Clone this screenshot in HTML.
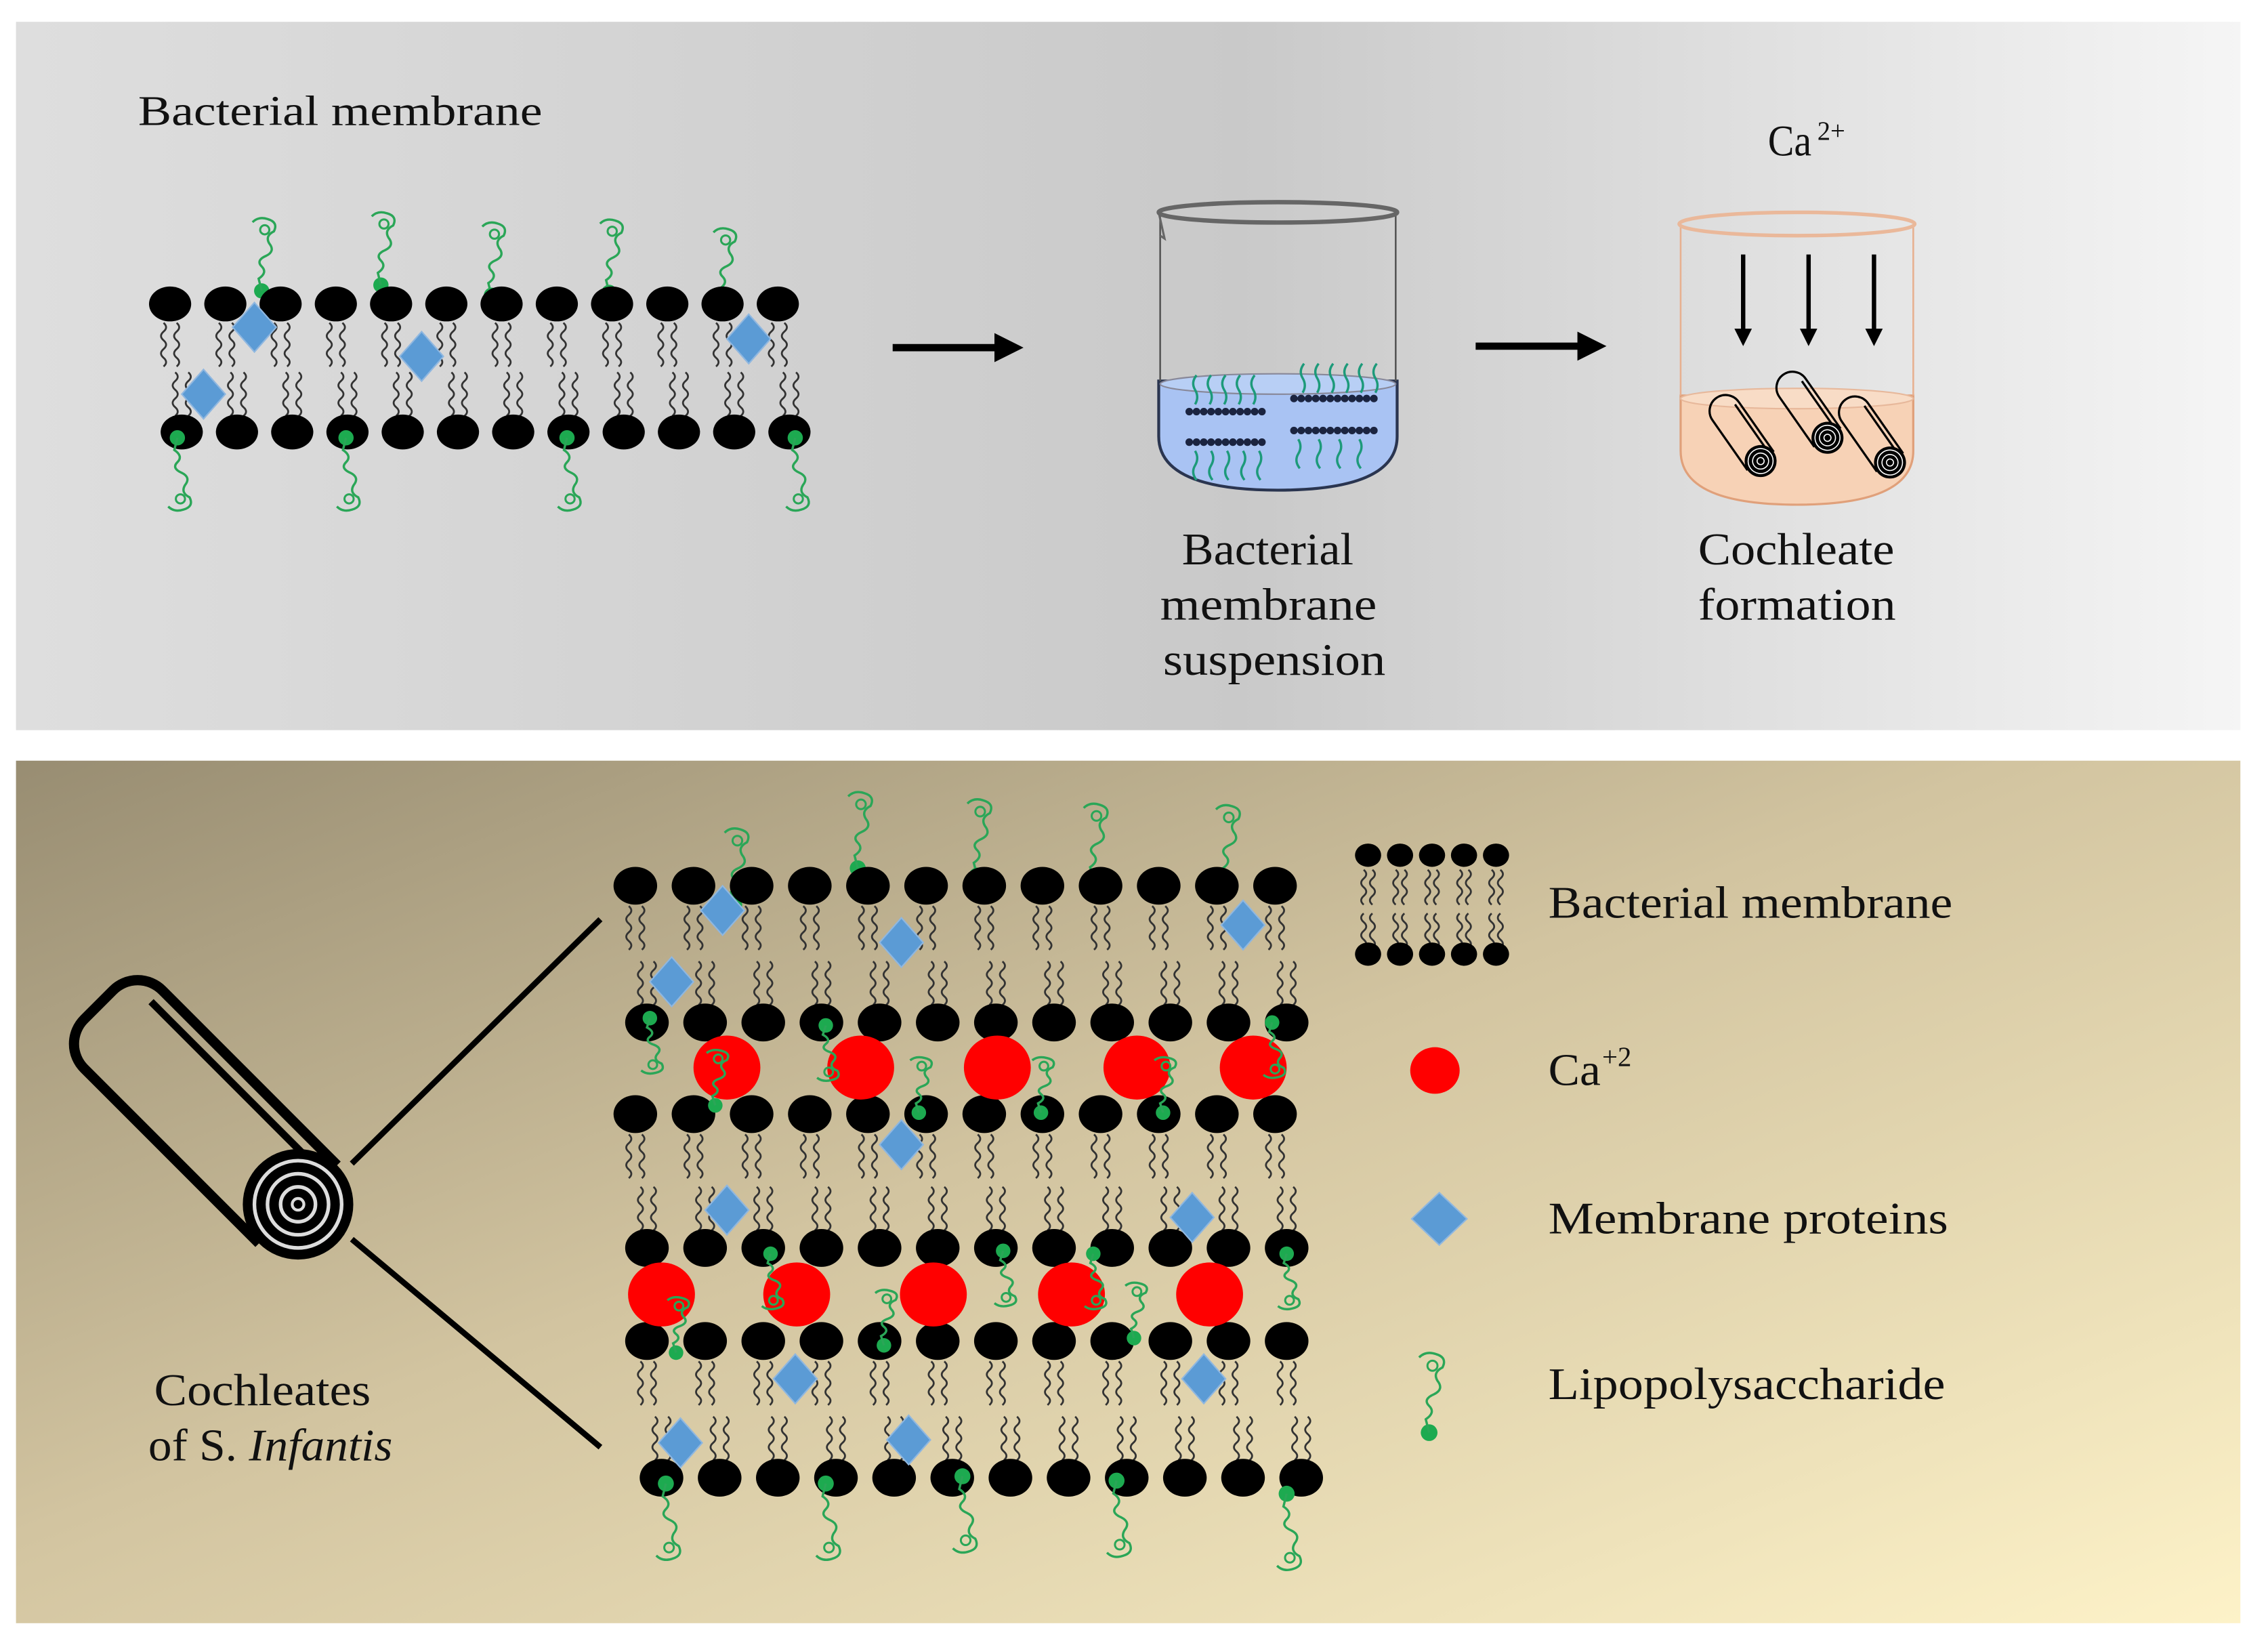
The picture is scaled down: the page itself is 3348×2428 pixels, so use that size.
<!DOCTYPE html>
<html><head><meta charset="utf-8">
<style>
html,body{margin:0;padding:0;background:#fff;}
svg{display:block;}
text{font-family:"Liberation Serif",serif;fill:#111;}
</style></head>
<body>
<svg id="s" width="3348" height="2428" viewBox="0 0 1560 1131" preserveAspectRatio="none" xmlns="http://www.w3.org/2000/svg">
<defs>
<linearGradient id="gt" x1="0" y1="0" x2="1" y2="0">
<stop offset="0" stop-color="#dedede"/><stop offset="0.55" stop-color="#c9c9c9"/><stop offset="1" stop-color="#f5f5f5"/>
</linearGradient>
<linearGradient id="gb" x1="0" y1="0" x2="1" y2="1">
<stop offset="0" stop-color="#988d72"/><stop offset="0.45" stop-color="#d2c4a0"/><stop offset="1" stop-color="#fdf2c8"/>
</linearGradient>
<marker id="ah" markerWidth="4" markerHeight="4" refX="2" refY="2" orient="auto" markerUnits="strokeWidth"><path d="M0,0 L4,2 L0,4 z" fill="#000"/></marker>
</defs>
<rect x="11" y="15" width="1530" height="487" fill="url(#gt)"/>
<rect x="11" y="523" width="1530" height="593" fill="url(#gb)"/>
<g id="g"></g>
<text x="95" y="86" font-size="29" textLength="278" lengthAdjust="spacingAndGlyphs">Bacterial membrane</text>
<text x="1216" y="107" font-size="30" textLength="30" lengthAdjust="spacingAndGlyphs">Ca</text><text x="1250" y="96" font-size="18">2+</text>
<text x="813" y="388" font-size="31" textLength="118" lengthAdjust="spacingAndGlyphs">Bacterial</text>
<text x="798" y="426" font-size="31" textLength="149" lengthAdjust="spacingAndGlyphs">membrane</text>
<text x="800" y="464" font-size="31" textLength="153" lengthAdjust="spacingAndGlyphs">suspension</text>
<text x="1168" y="388" font-size="31" textLength="135" lengthAdjust="spacingAndGlyphs">Cochleate</text>
<text x="1168" y="426" font-size="31" textLength="136" lengthAdjust="spacingAndGlyphs">formation</text>
<text x="1065" y="631" font-size="31" textLength="278" lengthAdjust="spacingAndGlyphs">Bacterial membrane</text>
<text x="1065" y="746" font-size="31" textLength="36" lengthAdjust="spacingAndGlyphs">Ca</text><text x="1102" y="733" font-size="19">+2</text>
<text x="1065" y="848" font-size="31" textLength="275" lengthAdjust="spacingAndGlyphs">Membrane proteins</text>
<text x="1065" y="962" font-size="31" textLength="273" lengthAdjust="spacingAndGlyphs">Lipopolysaccharide</text>
<text x="106" y="966" font-size="31" textLength="149" lengthAdjust="spacingAndGlyphs">Cochleates</text>
<text x="102" y="1004" font-size="31" textLength="168" lengthAdjust="spacingAndGlyphs">of S. <tspan font-style="italic">Infantis</tspan></text>
</svg>
<script>
var g=document.getElementById('g'),out='';
function add(s){out+=s;}
function head(x,y,rx,ry){add('<ellipse cx="'+x+'" cy="'+y+'" rx="'+(rx||14.5)+'" ry="'+(ry||12)+'" fill="#000"/>');}
function wave(x,y0,len,dir,w){var d='M'+x+' '+y0,n=Math.round(len/6);for(var i=0;i<n;i++){var a=(i%2?-1:1)*(w||3.5);d+=' q'+a+' '+(3*dir)+' 0 '+(6*dir);}add('<path d="'+d+'" fill="none" stroke="#333" stroke-width="1.3"/>');}
function tails(x,y0,len,dir,s){s=s||4.5;wave(x-s,y0,len,dir);wave(x+s,y0,len,dir);}
function dia(x,y,w,h){w=w||15;h=h||17;add('<path d="M'+x+' '+(y-h)+' L'+(x+w)+' '+y+' L'+x+' '+(y+h)+' L'+(x-w)+' '+y+'z" fill="#5b9bd5" stroke="#8fb7e0" stroke-width="1"/>');}
function lps(x,y,dir,sc){sc=sc||1;var k=dir*sc;
add('<circle cx="'+x+'" cy="'+y+'" r="'+(5*sc)+'" fill="#1daa50"/>');
var d='M'+x+' '+y+' l'+(-2*sc)+' '+(-8*k)+' q'+(6*sc)+' '+(-4*k)+' '+(2*sc)+' '+(-8*k)+' q'+(-4*sc)+' '+(-4*k)+' '+(3*sc)+' '+(-7*k)+' q'+(6*sc)+' '+(-3*k)+' '+(2*sc)+' '+(-8*k)+' q'+(-3*sc)+' '+(-5*k)+' '+(3*sc)+' '+(-8*k)+' q'+(3*sc)+' '+(-6*k)+' '+(-4*sc)+' '+(-8*k)+' q'+(-6*sc)+' '+(-2*k)+' '+(-10*sc)+' '+(2*k);
add('<path d="'+d+'" fill="none" stroke="#2aa657" stroke-width="1.6"/>');
add('<circle cx="'+(x+2*sc)+'" cy="'+(y-40*k)+'" r="'+(3*sc)+'" fill="none" stroke="#2aa657" stroke-width="1.4"/>');}
function line(x1,y1,x2,y2,w,c,m){add('<line x1="'+x1+'" y1="'+y1+'" x2="'+x2+'" y2="'+y2+'" stroke="'+(c||'#000')+'" stroke-width="'+w+'"'+(m?' marker-end="url(#ah)"':'')+'/>');}

[180,262,338,419,497].forEach(function(x,i){lps(x,[200,196,203,201,207][i],1,1.05);});
for(var i=0;i<12;i++){var x=117+i*38;head(x,209);tails(x,222,30,1);}
for(var i=0;i<12;i++){var x=125+i*38;tails(x,286,30,-1);head(x,297);}
[122,238,390,547].forEach(function(x){lps(x,301,-1,1.05);});
dia(175,225);dia(290,245);dia(515,233);dia(140,271);

line(614,239,694,239,5,'#000',1);line(1015,238,1095,238,5,'#000',1);

add('<path d="M797,262 L797,300 Q797,337 879,337 Q961,337 961,300 L961,262 Z" fill="#a9c3f3" stroke="#2a3550" stroke-width="2"/>');
add('<ellipse cx="879" cy="264" rx="81" ry="7" fill="#b8cff5" stroke="#889" stroke-width="1"/>');
add('<line x1="798" y1="148" x2="798" y2="262" stroke="#555" stroke-width="1.2"/><line x1="960" y1="148" x2="960" y2="262" stroke="#555" stroke-width="1.2"/>');
add('<ellipse cx="879" cy="146" rx="82" ry="7" fill="none" stroke="#666" stroke-width="3"/><path d="M797,146 l4,18 l-3,-2" fill="none" stroke="#666" stroke-width="1.5"/>');
function mini(x0,y,n){for(var i=0;i<n;i++){add('<circle cx="'+(x0+i*5)+'" cy="'+y+'" r="2.6" fill="#1b2440"/>');}}
mini(818,283,11);mini(818,304,11);mini(890,274,12);mini(890,296,12);
for(var i=0;i<5;i++){add('<path d="M'+(822+i*10)+',278 q3,-5 0,-10 q-3,-5 1,-10" fill="none" stroke="#1d9a7a" stroke-width="1.6"/>');add('<path d="M'+(822+i*11)+',310 q3,5 0,10 q-3,5 1,10" fill="none" stroke="#1d9a7a" stroke-width="1.6"/>');}
for(var i=0;i<6;i++){add('<path d="M'+(896+i*10)+',270 q3,-5 0,-10 q-3,-5 1,-10" fill="none" stroke="#1d9a7a" stroke-width="1.6"/>');}
for(var i=0;i<4;i++){add('<path d="M'+(893+i*14)+',302 q3,5 0,10 q-3,5 1,10" fill="none" stroke="#1d9a7a" stroke-width="1.6"/>');}
add('<path d="M1156,272 L1156,310 Q1156,347 1236,347 Q1316,347 1316,310 L1316,272 Z" fill="#f7d2b6" stroke="#e0a07a" stroke-width="1.5"/>');
add('<ellipse cx="1236" cy="274" rx="80" ry="7" fill="#f8dcc6" stroke="#e7b89b" stroke-width="1"/>');
add('<line x1="1156" y1="155" x2="1156" y2="272" stroke="#e7b090" stroke-width="1.2"/><line x1="1316" y1="155" x2="1316" y2="272" stroke="#e7b090" stroke-width="1.2"/>');
add('<ellipse cx="1236" cy="154" rx="81" ry="8" fill="none" stroke="#eab89a" stroke-width="2.5"/>');
[1199,1244,1289].forEach(function(x){line(x,175,x,232,3,'#000',1);});
function roll(cx,cy,L,r,rot,sw){add('<g transform="translate('+cx+','+cy+') rotate('+rot+')"><path d="M0,'+(-r)+' L'+(-L)+','+(-r)+' A'+r+','+r+' 0 0 0 '+(-L)+','+r+' L0,'+r+'" fill="none" stroke="#000" stroke-width="'+sw+'"/><line x1="0" y1="'+(-r*0.72)+'" x2="'+(-L)+'" y2="'+(-r*0.72)+'" stroke="#000" stroke-width="'+sw+'"/><circle r="'+r+'" fill="#000"/><circle r="'+(r*0.78)+'" fill="none" stroke="#fff" stroke-width="'+(sw*0.5)+'"/><circle r="'+(r*0.5)+'" fill="none" stroke="#fff" stroke-width="'+(sw*0.5)+'"/><circle r="'+(r*0.22)+'" fill="none" stroke="#fff" stroke-width="'+(sw*0.5)+'"/></g>');}
roll(1211,317,42,11,55,1.5);roll(1257,301,42,11,55,1.5);roll(1300,318,42,11,55,1.5);

add('<g transform="translate(205,828) rotate(45)"><path d="M0,-38 L-170,-38 A24,24 0 0 0 -194,-14 L-194,14 A24,24 0 0 0 -170,38 L0,38" fill="none" stroke="#000" stroke-width="7"/><line x1="0" y1="-27" x2="-170" y2="-27" stroke="#000" stroke-width="5"/><circle r="38" fill="#000"/><circle r="30" fill="none" stroke="#ddd" stroke-width="2.5"/><circle r="21" fill="none" stroke="#ddd" stroke-width="2.5"/><circle r="12" fill="none" stroke="#ddd" stroke-width="2.5"/><circle r="4" fill="none" stroke="#ddd" stroke-width="2"/></g>');
line(242,800,413,632,4);line(242,852,413,995,4);

[505,590,672,752,843].forEach(function(x,i){lps(x,[622,597,602,605,606][i],1,1.1);});
for(var i=0;i<12;i++){var x=437+i*40;head(x,609,15,13);tails(x,623,28,1);}
for(var i=0;i<12;i++){var x=445+i*40;tails(x,691,28,-1);head(x,703,15,13);}
for(var i=0;i<12;i++){var x=437+i*40;head(x,766,15,13);tails(x,780,28,1);}
for(var i=0;i<12;i++){var x=445+i*40;tails(x,846,28,-1);head(x,858,15,13);}
for(var i=0;i<12;i++){var x=445+i*40;head(x,922,15,13);tails(x,936,28,1);}
for(var i=0;i<12;i++){var x=455+i*40;tails(x,1004,28,-1);head(x,1016,15,13);}
[500,592,686,782,862].forEach(function(x){add('<ellipse cx="'+x+'" cy="734" rx="23" ry="22" fill="#f00"/>');});
[455,548,642,737,832].forEach(function(x){add('<ellipse cx="'+x+'" cy="890" rx="23" ry="22" fill="#f00"/>');});
[[447,700],[568,705],[875,703]].forEach(function(p){lps(p[0],p[1],-0.8);});
[[492,760],[632,765],[716,765],[800,765]].forEach(function(p){lps(p[0],p[1],0.8);});
[[530,862],[690,860],[752,862],[885,862]].forEach(function(p){lps(p[0],p[1],-0.8);});
[[465,930],[608,925],[780,920]].forEach(function(p){lps(p[0],p[1],0.8);});
[[458,1020],[568,1020],[662,1015],[768,1018],[885,1027]].forEach(function(p){lps(p[0],p[1],-1,1.1);});
[[497,626],[620,648],[855,636],[462,675],[620,787],[500,832],[820,837],[547,948],[828,948],[468,992],[625,990]].forEach(function(p){dia(p[0],p[1]);});

for(var i=0;i<5;i++){var x=941+i*22;head(x,588,9,8);tails(x,598,22,1,3);tails(x,652,22,-1,3);head(x,656,9,8);}
add('<ellipse cx="987" cy="736" rx="17" ry="16" fill="#f00"/>');
dia(990,838,19,18);
lps(983,985,1,1.15);
g.innerHTML=out;
</script>
</body></html>
